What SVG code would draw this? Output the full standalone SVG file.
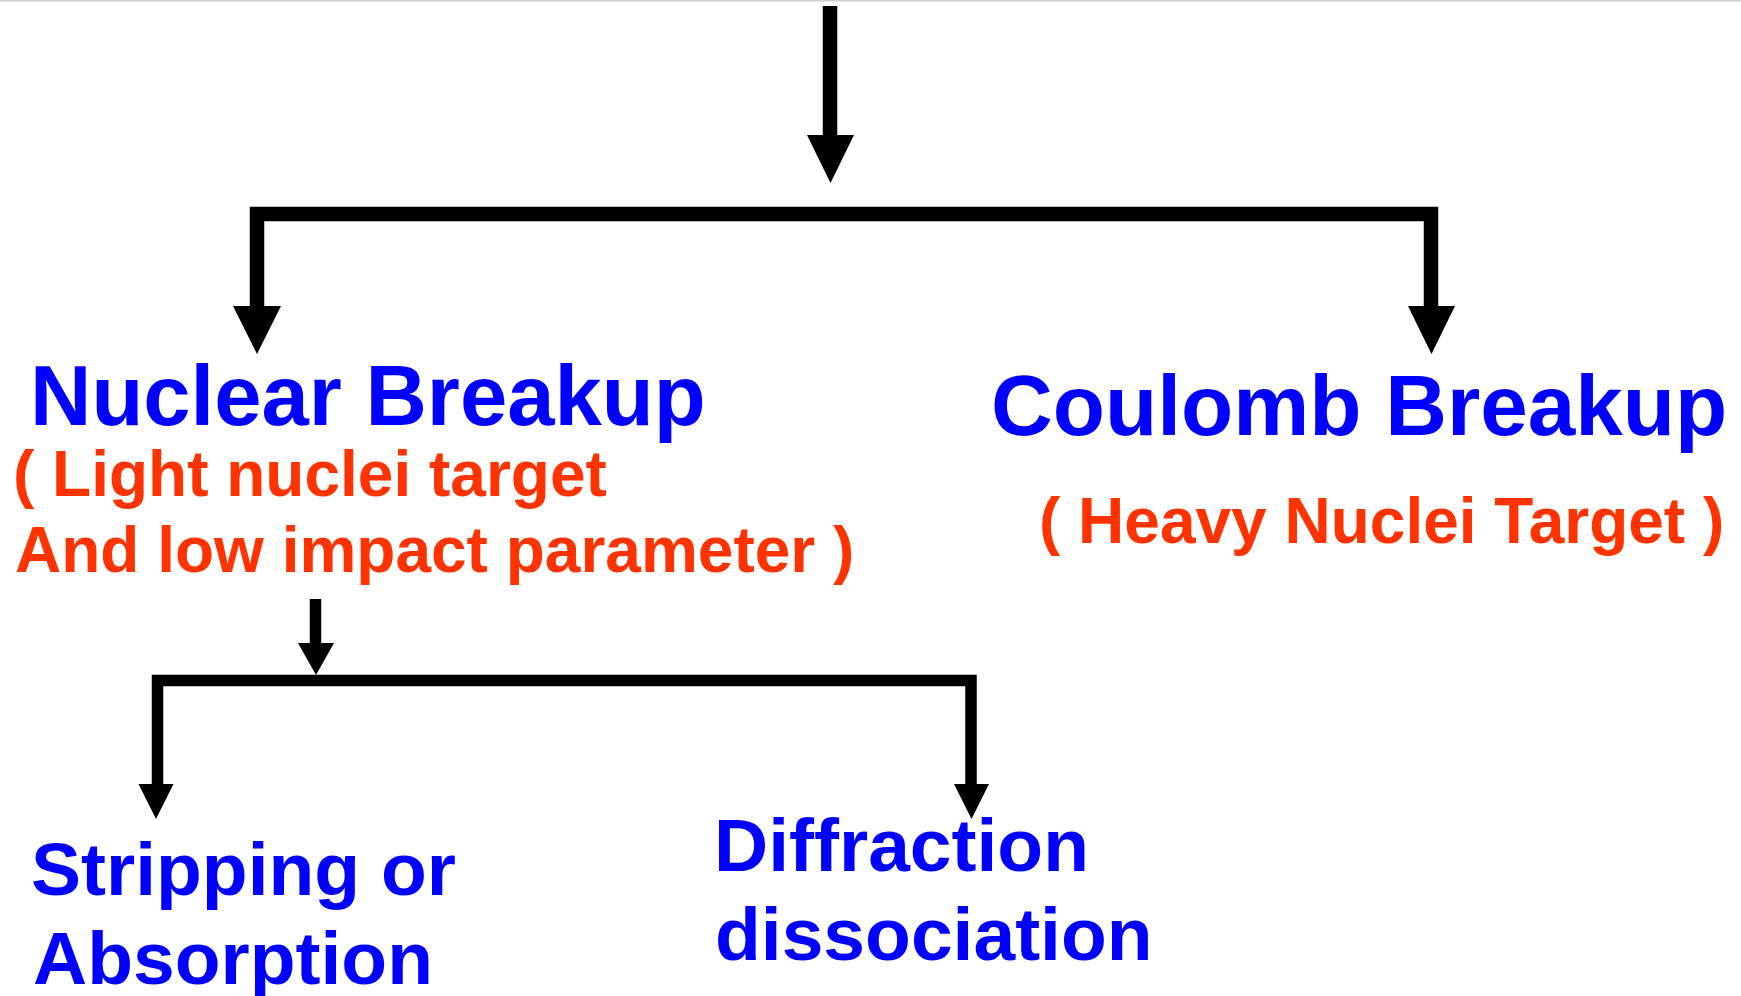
<svg xmlns="http://www.w3.org/2000/svg" width="1741" height="996" viewBox="0 0 1741 996">
<style>
.bg{fill:#ffffff}
.edge{fill:none;stroke:#000;stroke-linejoin:miter;stroke-linecap:butt}
.thick{stroke-width:14.5}
.thin{stroke-width:11.5}
.head{fill:#000;stroke:none}
.title{font-family:"Liberation Sans",Arial,sans-serif;font-weight:bold;fill:#0000FF}
.note{font-family:"Liberation Sans",Arial,sans-serif;font-weight:bold;fill:#FF3300}
</style>
<rect class="bg" x="0" y="0" width="1741" height="996"/>
<rect x="0" y="0" width="1741" height="1.5" fill="#d0d0d0"/>
<g id="connectors">
  <path class="edge thick" d="M830,6 V137"/>
  <polygon class="head" points="807,135 854,135 830.5,183"/>
  <path class="edge thick" d="M257,308 V214 H1431 V308"/>
  <polygon class="head" points="233,306 281,306 257,354"/>
  <polygon class="head" points="1408,306 1455,306 1431.5,354"/>
  <path class="edge thin" d="M315.5,599 V645"/>
  <polygon class="head" points="298,643 334,643 316,675"/>
  <path class="edge thin" d="M157.5,786 V680.5 H971 V786"/>
  <polygon class="head" points="138.5,784 173.5,784 156,819"/>
  <polygon class="head" points="954,784 989,784 971.5,819"/>
</g>
<g id="nuclear-breakup">
  <text class="title" x="30" y="425" font-size="85">Nuclear Breakup</text>
  <text class="note" x="13" y="496" font-size="64">( Light nuclei target</text>
  <text class="note" x="15" y="572" font-size="64">And low impact parameter )</text>
</g>
<g id="coulomb-breakup">
  <text class="title" x="991" y="435" font-size="85.5">Coulomb Breakup</text>
  <text class="note" x="1039" y="543" font-size="64">( Heavy Nuclei Target )</text>
</g>
<g id="stripping">
  <text class="title" x="31" y="895" font-size="75">Stripping or</text>
  <text class="title" x="33" y="984" font-size="75">Absorption</text>
</g>
<g id="diffraction">
  <text class="title" x="714" y="871" font-size="75">Diffraction</text>
  <text class="title" x="715" y="960" font-size="75">dissociation</text>
</g>
</svg>
